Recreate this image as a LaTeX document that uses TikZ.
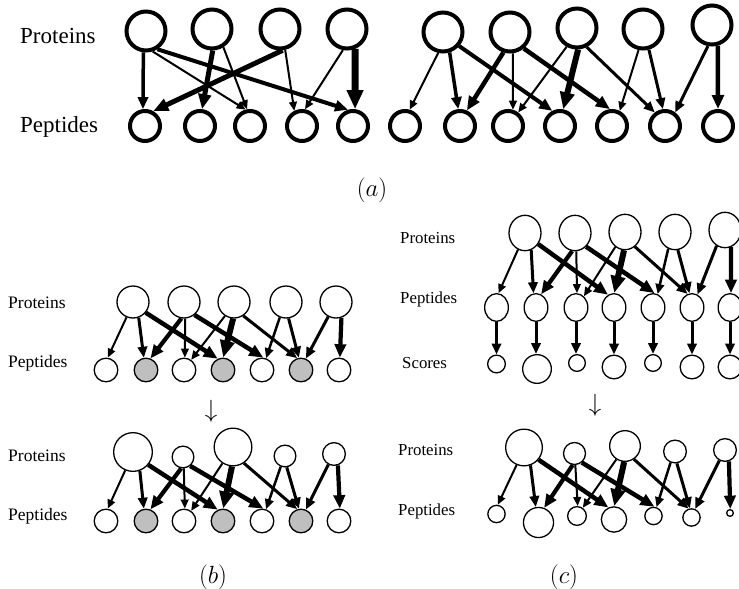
\documentclass[tikz,border=0pt]{standalone}
\usepackage{fontspec}
\setmainfont{Liberation Serif}
\usetikzlibrary{arrows.meta,shapes.geometric}
\tikzset{
 pa/.style={circle, draw, line width=4pt, minimum size=39pt, inner sep=0pt},
 qa/.style={circle, draw, line width=4pt, minimum size=30pt, inner sep=0pt},
 nb/.style={circle, draw, line width=1.3pt, inner sep=0pt},
 eb/.style={ellipse, draw, line width=1.3pt, inner sep=0pt},
 arr/.style={-{Triangle[length=5pt 2,width=4.5pt 1.6]}},
 biglab/.style={font=\fontsize{23}{27}\selectfont, inner sep=0pt, anchor=base west},
 smlab/.style={font=\fontsize{17.5}{20}\selectfont, inner sep=0pt, anchor=base west},
 clab/.style={font=\fontsize{16.8}{20}\selectfont, inner sep=0pt, anchor=base west},
 captxt/.style={font=\fontsize{23}{27}\selectfont, inner sep=0pt},
}
\newcommand\drawbcedges[2]{%
 \foreach \i/\j/\w/\s/\e in {1/1/2/-113/82, 1/2/3/-70/100, 1/4/4.5/-40/115,
   2/2/4.2/-99/69, 2/3/2/-86/86, 2/5/4.5/-51/84,
   3/3/2/-123/55, 3/4/6/-93/89, 3/6/3/-56/108,
   4/5/2.5/-112/71, 4/6/3/-81/100,
   5/6/3/-118/67, 5/7/4.2/-71/86}
 {\draw[arr, line width=\w pt] (#1\i.\s) -- (#2\j.\e);}%
}
\begin{document}
\begin{tikzpicture}[x=1pt,y=-1pt]
\useasboundingbox (0,0) rectangle (739,589);
% ---------- (a) ----------
\node[biglab] (la1) at (20,43) {Proteins};
\node[biglab] (la2) at (20,132) {Peptides};
\node[pa] (a1) at (146,31) {};
\node[pa] (a2) at (212,29) {};
\node[pa] (a3) at (280,29) {};
\node[pa] (a4) at (347,29) {};
\foreach \n/\x in {1/145,2/200,3/250,4/302,5/353}
  \node[qa] (aq\n) at (\x,126) {};
\foreach \i/\j/\w/\s/\e in {1/1/3.5/-97/97, 1/3/2/-72/105, 1/5/4/-58/107,
   2/2/5/-88/83, 2/3/2/-58/100, 3/1/5/-83/61, 3/4/2/-76/117,
   4/4/2/-101/80, 4/5/7/-68/83}
 {\draw[arr, line width=\w pt] (a\i.\s) -- (aq\j.\e);}
\node[pa] (r1) at (443,32) {};
\node[pa] (r2) at (510,32) {};
\node[pa] (r3) at (577,28) {};
\node[pa] (r4) at (643,29) {};
\node[pa] (r5) at (712,25) {};
\foreach \n/\x in {1/405,2/460,3/508,4/560,5/612,6/665,7/718}
  \node[qa] (s\n) at (\x,126) {};
\foreach \i/\j/\w/\s/\e in {1/1/2/-103/74, 1/2/3.5/-72/96, 1/4/4/-41/117,
   2/2/4.5/-108/66, 2/3/2/-82/73, 2/5/4.5/-50/97,
   3/3/2/-119/53, 3/4/6/-87/79, 3/6/3/-63/127,
   4/5/2/-102/63, 4/6/3/-74/97, 5/6/3/-101/53, 5/7/4.5/-74/90}
 {\draw[arr, line width=\w pt] (r\i.\s) -- (s\j.\e);}
\node[captxt] (capa) at (372,190) {$(a)$};
% ---------- (b) top ----------
\node[smlab] (lb1) at (8,308) {Proteins};
\node[smlab] (lb2) at (8,367) {Peptides};
\foreach \n/\x in {1/133,2/184,3/234,4/286,5/336}
  \node[nb, minimum size=32pt] (btp\n) at (\x,302) {};
\foreach \n/\x/\f in {1/106/white,2/146/black!25,3/184/white,4/223/black!25,5/262/white,6/301/black!25,7/339/white}
  \node[nb, minimum size=23.6pt, fill=\f] (btq\n) at (\x,370) {};
\drawbcedges{btp}{btq}
\node[captxt] (darrb) at (211,411) {$\downarrow$};
% ---------- (b) bottom ----------
\node[smlab] (lb3) at (8,461) {Proteins};
\node[smlab] (lb4) at (8,520) {Peptides};
\foreach \n/\x/\y/\d in {1/133/452/38.7, 2/183/457/21.7, 3/233/447/37.7, 4/285/456/21.7, 5/334/454/22.7}
  \node[nb, minimum size=\d pt] (bbp\n) at (\x,\y) {};
\foreach \n/\x/\f in {1/106/white,2/146/black!25,3/184/white,4/223/black!25,5/262/white,6/301/black!25,7/339/white}
  \node[nb, minimum size=23.6pt, fill=\f] (bbq\n) at (\x,521) {};
\drawbcedges{bbp}{bbq}
\node[captxt] (capb) at (213,577) {$(b)$};
% ---------- (c) top ----------
\node[clab] (lc1) at (400,243) {Proteins};
\node[clab] (lc2) at (400,303) {Peptides};
\node[clab] (lc3) at (402,368) {Scores};
\foreach \n/\x/\y in {1/525/233, 2/575/233, 3/625/232, 4/675/232, 5/725/230}
  \node[eb, minimum width=32pt, minimum height=35.4pt] (ctp\n) at (\x,\y) {};
\foreach \n/\x in {1/496.5,2/536,3/576,4/614,5/653,6/692,7/730}
  \node[eb, minimum width=23.7pt, minimum height=27.7pt] (ctq\n) at (\x,307.5) {};
\drawbcedges{ctp}{ctq}
\foreach \n/\x/\y/\d in {1/496.5/364/17.7, 2/537/369/28.7, 3/577/363/16.7, 4/614/367/23.7, 5/653/363/16.7, 6/692/367/23.7, 7/730/367/23.7}
  \node[nb, minimum size=\d pt] (cts\n) at (\x,\y) {};
\foreach \n in {1,...,7}
  \draw[arr, line width=3pt] (ctq\n.south) -- (ctq\n.south |- cts\n.north);
\node[captxt] (darrc) at (595,405) {$\downarrow$};
% ---------- (c) bottom ----------
\node[clab] (lc4) at (398,455) {Proteins};
\node[clab] (lc5) at (398,515) {Peptides};
\foreach \n/\x/\y/\d in {1/524/447.5/36.7, 2/574.5/453.5/22, 3/625/446/30.7, 4/675/451.5/22.7, 5/725/450/22.7}
  \node[nb, minimum size=\d pt] (cbp\n) at (\x,\y) {};
\foreach \n/\x/\y/\d in {1/496.5/514/17.3, 2/538.5/522.5/30.1, 3/577/516/18.7, 4/614/519.5/25.3, 5/653.5/516/17.3, 6/691.5/517.5/17.3, 7/730/513/6.7}
  \node[nb, minimum size=\d pt] (cbq\n) at (\x,\y) {};
\drawbcedges{cbp}{cbq}
\node[captxt] (capc) at (564,577) {$(c)$};
\end{tikzpicture}
\end{document}
